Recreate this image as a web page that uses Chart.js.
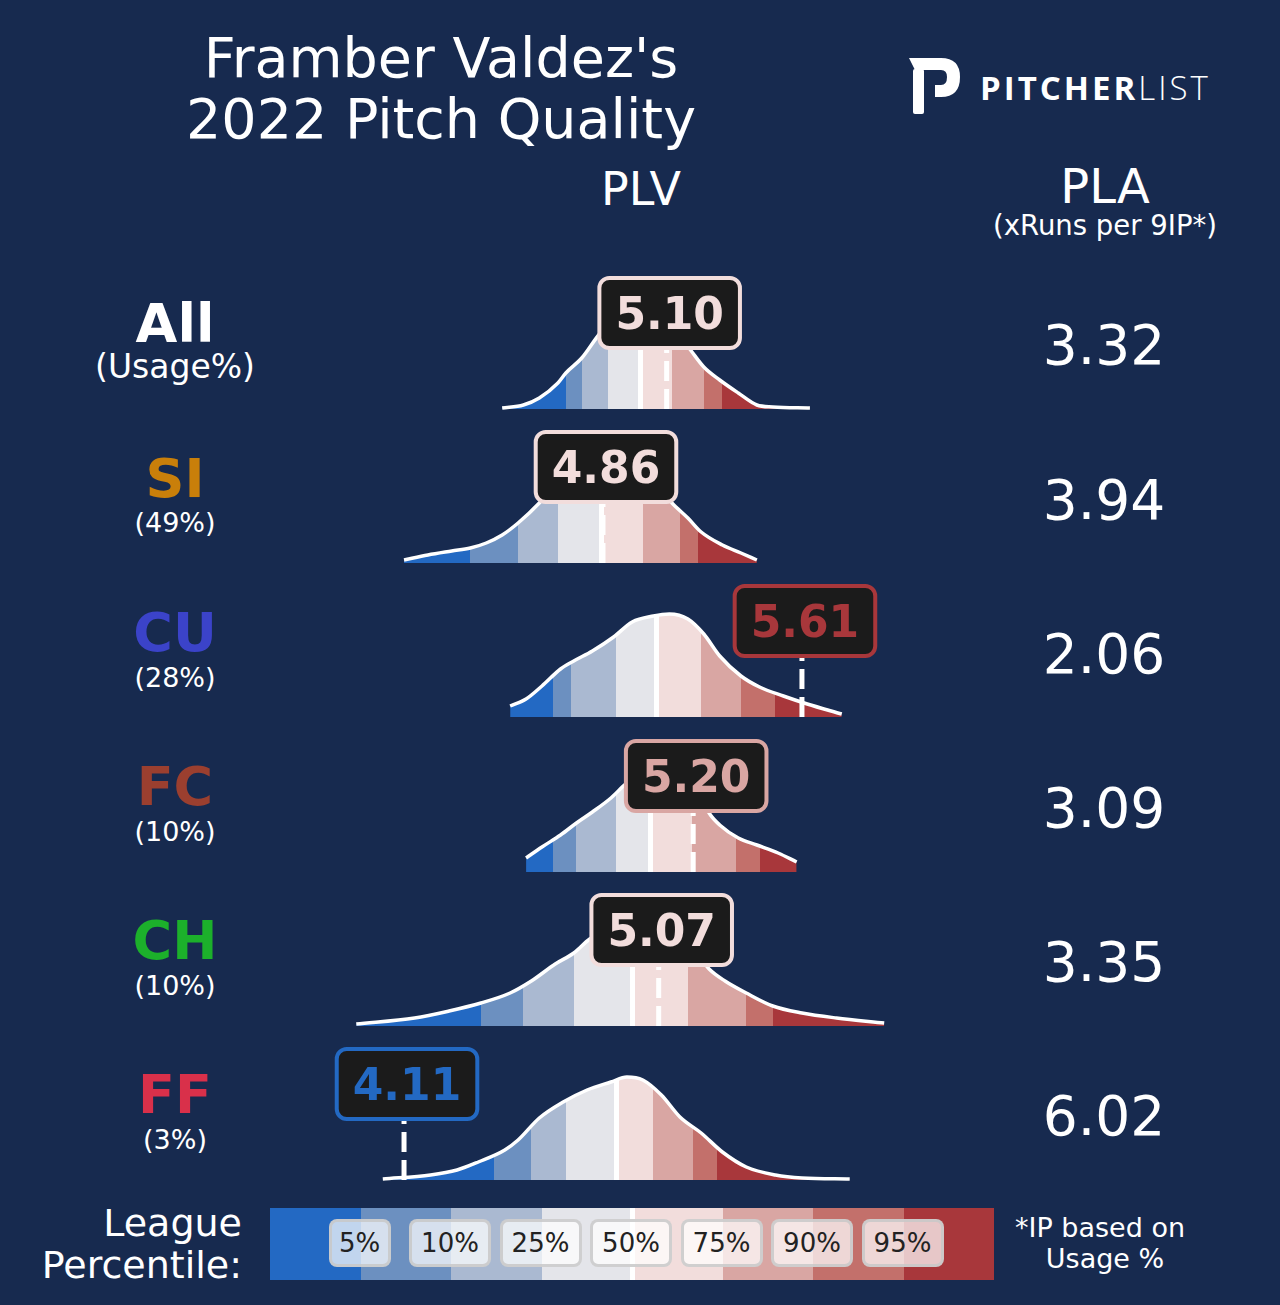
<!DOCTYPE html>
<html>
<head>
<meta charset="utf-8">
<script src="https://cdn.jsdelivr.net/npm/chart.js@4.4.0/dist/chart.umd.min.js"></script>
<style>
  body { margin: 0; background: #172a4f; width: 1280px; height: 1305px; overflow: hidden; position: relative; font-family: "DejaVu Sans", sans-serif; color: #fff; }
  .t { position: absolute; white-space: nowrap; }
  .row { position: absolute; left: 0; width: 1280px; height: 160px; }
  #bar { position: absolute; left: 270px; top: 1208px; width: 724px; height: 72px; display: flex; }
  .pct { position: absolute; top: 1219px; height: 42px; line-height: 42px; font-size: 26px; color: #222; text-align: center;
         background: rgba(255,255,255,0.72); border: 3px solid rgba(200,200,200,0.85); border-radius: 8px; transform: translateX(-50%); padding: 0 6px; }
</style>
</head>
<body>
<svg style="position:absolute;left:905px;top:55px" width="60" height="62" viewBox="0 0 60 62">
  <rect x="8" y="14" width="11" height="45" rx="2" fill="#fff"/>
  <path d="M4 3 L36 3 Q55 3 55 22 Q55 42 36 42 L30 42 L30 30 L36 30 Q42 30 42 22 Q42 15 36 15 L10 15 Z" fill="#fff"/>
</svg>
<div class="t" style="left:980px;top:70px;font-family:'Open Sans';font-size:33px;line-height:36px;letter-spacing:3px"><b>PITCHER</b><span style="font-weight:300">LIST</span></div>
<div id="bar"></div>

<script>
// x range of the shared PLV axis
var xMin = 2.587, xMax = 7.412;

var pitches = ['All', 'SI', 'CU', 'FC', 'CH', 'FF'];
var usage = ['(Usage%)', '(49%)', '(28%)', '(10%)', '(10%)', '(3%)'];
var pitchColors = ['#ffffff', '#c97f0a', '#3b43c9', '#9b3f2f', '#1cb02b', '#d9304a'];
var plv = [5.10, 4.86, 5.61, 5.20, 5.07, 4.11];
var pla = [3.32, 3.94, 2.06, 3.09, 3.35, 6.02];

var pctLabels = ['5%', '10%', '25%', '50%', '75%', '90%', '95%'];
var bandColors = ['#2369c3', '#6c90c0', '#aab9d1', '#e4e5ea', '#f2dddc', '#d9a6a3', '#c3706b', '#a8373b'];

// league percentile cut points (PLV) per pitch type
var pctAll = [4.72, 4.78, 4.88, 5.00, 5.12, 5.24, 5.31];
var pctSI  = [4.36, 4.54, 4.69, 4.855, 5.01, 5.15, 5.22];
var pctCU  = [4.67, 4.74, 4.91, 5.06, 5.23, 5.38, 5.51];
var pctFC  = [4.67, 4.76, 4.91, 5.04, 5.195, 5.36, 5.45];
var pctCH  = [4.40, 4.56, 4.75, 4.97, 5.18, 5.40, 5.50];
var pctFF  = [4.45, 4.59, 4.72, 4.91, 5.05, 5.20, 5.29];

// league density curves (PLV, relative density)
var xAll = [4.48, 4.56, 4.62, 4.69, 4.72, 4.78, 4.85, 4.91, 4.96, 5.02, 5.08, 5.13, 5.19, 5.24, 5.30, 5.37, 5.44, 5.50, 5.64];
var dAll = [0.01, 0.04, 0.11, 0.26, 0.36, 0.51, 0.76, 0.90, 0.98, 1.00, 0.96, 0.80, 0.59, 0.42, 0.29, 0.16, 0.04, 0.02, 0.01];
var xSI  = [4.11, 4.20, 4.29, 4.36, 4.42, 4.48, 4.54, 4.62, 4.70, 4.77, 4.86, 4.94, 5.04, 5.12, 5.18, 5.23, 5.31, 5.38, 5.44];
var dSI  = [0.03, 0.08, 0.12, 0.15, 0.20, 0.28, 0.40, 0.60, 0.85, 0.98, 1.03, 1.00, 0.85, 0.60, 0.45, 0.31, 0.18, 0.10, 0.03];
var xCU  = [4.51, 4.57, 4.63, 4.70, 4.75, 4.82, 4.90, 4.97, 5.05, 5.11, 5.18, 5.24, 5.30, 5.38, 5.45, 5.54, 5.63, 5.76];
var dCU  = [0.11, 0.18, 0.31, 0.48, 0.56, 0.66, 0.80, 0.95, 1.01, 1.03, 0.98, 0.83, 0.61, 0.41, 0.30, 0.21, 0.13, 0.03];
var xFC  = [4.57, 4.63, 4.70, 4.76, 4.82, 4.89, 4.95, 5.02, 5.09, 5.17, 5.23, 5.26, 5.30, 5.37, 5.44, 5.52, 5.59];
var dFC  = [0.14, 0.25, 0.37, 0.49, 0.60, 0.74, 0.89, 1.00, 1.03, 0.95, 0.75, 0.59, 0.47, 0.34, 0.27, 0.19, 0.10];
var xCH  = [3.93, 4.15, 4.28, 4.40, 4.51, 4.59, 4.68, 4.75, 4.81, 4.89, 4.98, 5.07, 5.17, 5.23, 5.26, 5.32, 5.40, 5.50, 5.61, 5.74, 5.92];
var dCH  = [0.02, 0.08, 0.15, 0.23, 0.33, 0.45, 0.62, 0.73, 0.87, 0.98, 1.03, 1.00, 0.82, 0.67, 0.57, 0.45, 0.33, 0.20, 0.13, 0.08, 0.03];
var xFF  = [4.03, 4.21, 4.31, 4.39, 4.49, 4.54, 4.62, 4.71, 4.80, 4.89, 4.95, 5.01, 5.08, 5.15, 5.23, 5.31, 5.40, 5.51, 5.61, 5.79];
var dFF  = [0.01, 0.05, 0.10, 0.18, 0.30, 0.40, 0.62, 0.78, 0.90, 0.98, 1.03, 1.00, 0.85, 0.63, 0.47, 0.28, 0.13, 0.05, 0.02, 0.01];

var curveX = [xAll, xSI, xCU, xFC, xCH, xFF];
var curveD = [dAll, dSI, dCU, dFC, dCH, dFF];
var pcts = [pctAll, pctSI, pctCU, pctFC, pctCH, pctFF];

function put(txt, x, base, size, bold, color, align) {
  var d = document.createElement('div');
  d.className = 't';
  d.textContent = txt;
  d.style.fontSize = size + 'px';
  d.style.lineHeight = size + 'px';
  d.style.top = (base - 0.846 * size) + 'px';
  d.style.fontWeight = bold ? 'bold' : 'normal';
  d.style.color = color || '#fff';
  if (align == 'right') {
    d.style.right = (1280 - x) + 'px';
  } else {
    d.style.left = x + 'px';
    d.style.transform = 'translateX(-50%)';
  }
  document.body.appendChild(d);
}

function bandIndex(v, p) {
  var k = 0;
  while (k < p.length && v > p[k]) k++;
  return k;
}

// hard-stop gradient: one colour per percentile band, white line at the median
function bandFill(chart, p) {
  var area = chart.chartArea, sx = chart.scales.x;
  var w = area.right - area.left;
  var edges = [area.left].concat(p.map(function(v) { return sx.getPixelForValue(v); }), [area.right]);
  var segs = [];
  for (var i = 0; i < 8; i++) segs.push([edges[i], edges[i + 1], bandColors[i]]);
  var m = edges[4];
  segs[3][1] = m - 2.5;
  segs[4][0] = m + 2.5;
  segs.splice(4, 0, [m - 2.5, m + 2.5, '#ffffff']);
  var g = chart.ctx.createLinearGradient(area.left, 0, area.right, 0);
  segs.forEach(function(s) {
    g.addColorStop(Math.max(0, Math.min(1, (s[0] - area.left) / w)), s[2]);
    g.addColorStop(Math.max(0, Math.min(1, (s[1] - area.left) / w)), s[2]);
  });
  return g;
}

var markPlugin = {
  id: 'mark',
  afterDatasetsDraw: function(chart, args, opts) {
    var i = opts.row;
    var ctx = chart.ctx;
    var x = chart.scales.x.getPixelForValue(plv[i]);
    var sy = chart.scales.y;
    var y0 = sy.getPixelForValue(0), yb = sy.getPixelForValue(0.61), yt = sy.getPixelForValue(1.31);
    var col = bandColors[bandIndex(plv[i], pcts[i])];
    ctx.save();
    ctx.strokeStyle = '#fff';
    ctx.lineWidth = 5;
    ctx.setLineDash([20, 8]);
    ctx.beginPath();
    ctx.moveTo(x, y0);
    ctx.lineTo(x, yb);
    ctx.stroke();
    ctx.setLineDash([]);
    var txt = plv[i].toFixed(2);
    var bx = x + 3;
    ctx.font = 'bold 44px "DejaVu Sans"';
    var bw = ctx.measureText(txt).width + 32;
    ctx.beginPath();
    ctx.roundRect(bx - bw / 2, yt, bw, yb - yt, 10);
    ctx.fillStyle = '#1b1b1b';
    ctx.fill();
    ctx.lineWidth = 4;
    ctx.strokeStyle = col;
    ctx.stroke();
    ctx.fillStyle = col;
    ctx.textAlign = 'center';
    ctx.fillText(txt, bx, (yt + yb) / 2 + 15.5);
    ctx.restore();
  }
};

// titles
put("Framber Valdez's", 441, 77, 55.5);
put('2022 Pitch Quality', 441, 138, 55.5);
put('PLV', 641, 205, 46);
put('PLA', 1105, 203, 48);
put('(xRuns per 9IP*)', 1105, 235, 27.5);

pitches.forEach(function(name, i) {
  var base = 409 + i * 154.2;
  put(name, 175, base - 66, 54, true, pitchColors[i]);
  put(usage[i], 175, base - 31, i == 0 ? 33 : 27);
  put(pla[i].toFixed(2), 1104, base - 44, 55);

  var div = document.createElement('div');
  div.className = 'row';
  div.style.top = (base - 150) + 'px';
  var cv = document.createElement('canvas');
  cv.width = 1280; cv.height = 160;
  div.appendChild(cv);
  document.body.appendChild(div);

  var pts = curveX[i].map(function(v, k) { return { x: v, y: curveD[i][k] }; });
  new Chart(cv, {
    type: 'line',
    data: { datasets: [{
      data: pts,
      borderColor: '#ffffff',
      borderWidth: 3.5,
      pointRadius: 0,
      cubicInterpolationMode: 'monotone',
      fill: 'origin',
      backgroundColor: function(c) {
        if (!c.chart.chartArea) return 'rgba(0,0,0,0)';
        return bandFill(c.chart, pcts[i]);
      }
    }] },
    options: {
      responsive: false, animation: false, events: [],
      layout: { padding: 0 },
      plugins: { legend: { display: false }, tooltip: { enabled: false }, mark: { row: i } },
      scales: {
        x: { type: 'linear', min: xMin, max: xMax, display: false },
        y: { min: -0.1, max: 1.5, display: false }
      }
    },
    plugins: [markPlugin]
  });
});

// legend colour bar
var bar = document.getElementById('bar');
bandColors.forEach(function(c) {
  var s = document.createElement('div');
  s.style.flex = '1';
  s.style.background = c;
  bar.appendChild(s);
});
var mid = document.createElement('div');
mid.style.cssText = 'position:absolute;left:359.5px;top:0;width:5px;height:72px;background:#fff';
bar.appendChild(mid);
pctLabels.forEach(function(l, k) {
  var d = document.createElement('div');
  d.className = 'pct';
  d.textContent = l;
  d.style.left = (270 + (k + 1) * 724 / 8 - 1) + 'px';
  d.style.minWidth = (k == 0 ? 44 : 64) + 'px';
  document.body.appendChild(d);
});
put('League', 242, 1236, 38, false, '#fff', 'right');
put('Percentile:', 242, 1278, 38, false, '#fff', 'right');
put('*IP based on', 1100, 1237, 27);
put('Usage %', 1105, 1268, 27);
</script>
</body>
</html>
